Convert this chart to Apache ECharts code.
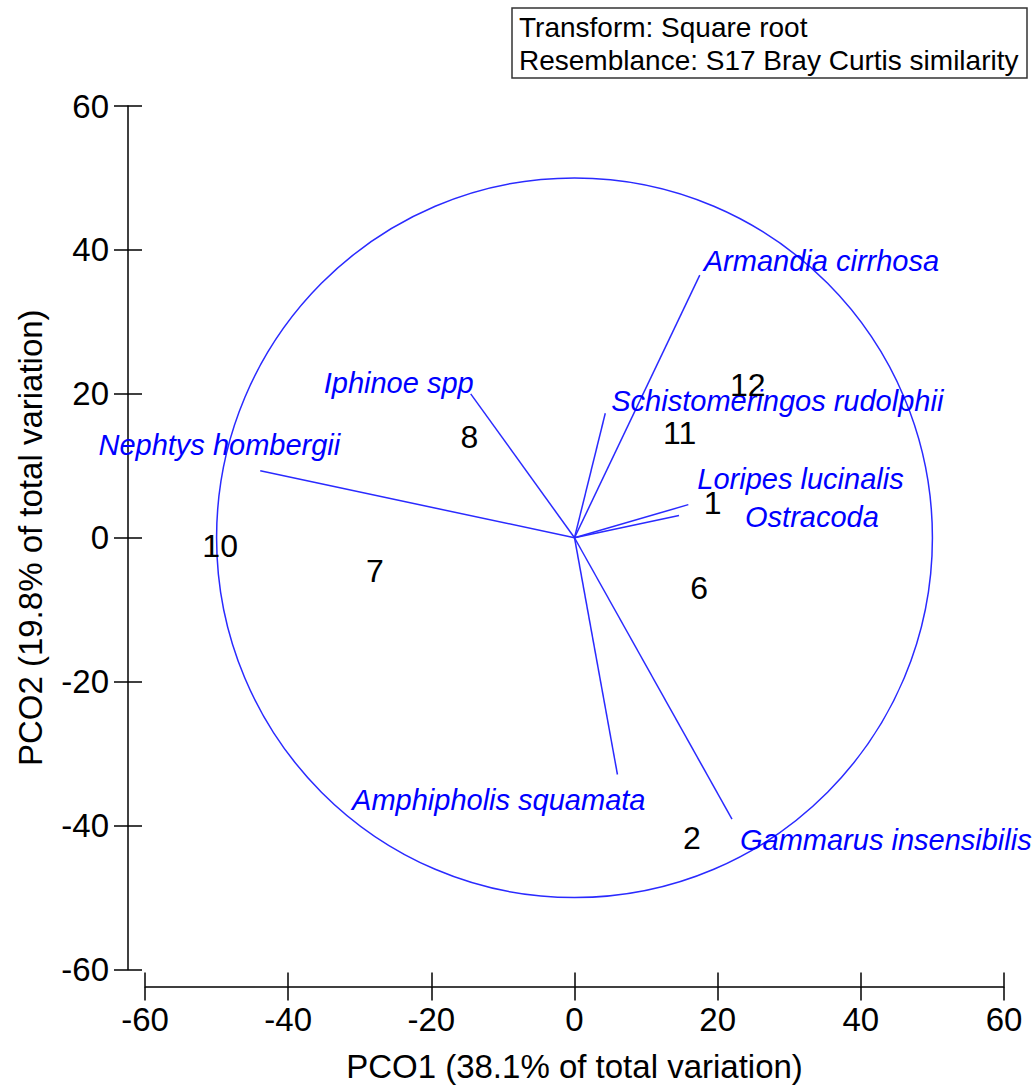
<!DOCTYPE html>
<html>
<head>
<meta charset="utf-8">
<style>
  html, body { margin: 0; padding: 0; background: #ffffff; }
  #chart { width: 1033px; height: 1086px; }
</style>
<script src="https://cdn.jsdelivr.net/npm/echarts@6/dist/echarts.min.js"></script>
</head>
<body>
<div id="chart"></div>
<script>
// ---- data ----
const sampleNames = ['1', '2', '6', '7', '8', '10', '11', '12'];
const sampleX = [19.3, 16.4, 17.4, -27.9, -14.7, -49.5, 14.7, 24.2];
const sampleY = [4.8, -41.7, -7.0, -4.6, 14.0, -1.1, 14.6, 21.2];

const speciesNames = ['Armandia cirrhosa', 'Schistomeringos rudolphii', 'Loripes lucinalis', 'Ostracoda',
                      'Iphinoe spp', 'Nephtys hombergii', 'Amphipholis squamata', 'Gammarus insensibilis'];
const speciesX = [17.5, 4.3, 15.9, 14.6, -14.5, -43.9, 6.0, 22.0];
const speciesY = [36.5, 17.3, 4.6, 3.1, 20.0, 9.3, -32.9, -39.1];

const circleRadius = 50;
const axisMin = -60, axisMax = 60, axisStep = 20;
const xTitle = 'PCO1 (38.1% of total variation)';
const yTitle = 'PCO2 (19.8% of total variation)';
const infoLines = ['Transform: Square root', 'Resemblance: S17 Bray Curtis similarity'];

// ---- styling (label placement offsets in pixels) ----
const FONT = '"Liberation Sans", Arial, sans-serif';
const BLUE_TEXT = '#0000ff';
const BLUE_LINE = '#2a2aff';
const speciesLabelStyle = [
  { dx: 4, dy: -14, align: 'left' },
  { dx: 6, dy: -12, align: 'left' },
  { dx: 9, dy: -26, align: 'left' },
  { dx: 66, dy: 2, align: 'left' },
  { dx: 3, dy: -11, align: 'right' },
  { dx: 80, dy: -26, align: 'right' },
  { dx: 28, dy: 26, align: 'right' },
  { dx: 8, dy: 21, align: 'left' }
];

const samples = sampleNames.map((n, i) => [sampleX[i], sampleY[i]]);
const species = speciesNames.map((n, i) => [speciesX[i], speciesY[i]]);

const axisCommon = {
  type: 'value', min: axisMin, max: axisMax, interval: axisStep,
  splitLine: { show: false }
};

function mainAxis(position, extra) {
  return Object.assign({}, axisCommon, {
    position: position,
    offset: 17,
    axisLine: { show: true, onZero: false, lineStyle: { color: '#000', width: 1.5 } },
    axisTick: { show: true, inside: false, length: 14, lineStyle: { color: '#000', width: 1.5 } },
    nameLocation: 'middle',
    nameTextStyle: { color: '#000', fontSize: 33, fontFamily: FONT }
  }, extra);
}
function innerTickAxis(position) {
  return Object.assign({}, axisCommon, {
    position: position,
    offset: 17,
    axisLine: { show: false, onZero: false },
    axisTick: { show: true, inside: true, length: 14, lineStyle: { color: '#000', width: 1.5 } },
    axisLabel: { show: false }
  });
}

const chart = echarts.init(document.getElementById('chart'), null, { renderer: 'svg' });
chart.setOption({
  animation: false,
  backgroundColor: '#ffffff',
  textStyle: { fontFamily: FONT },
  grid: { left: 145, right: 29, top: 106, bottom: 116.5, outerBoundsMode: 'none', containLabel: false },
  xAxis: [
    mainAxis('bottom', { name: xTitle, nameGap: 63,
      axisLabel: { show: true, color: '#000', fontSize: 33, fontFamily: FONT, margin: 16, showMinLabel: true, showMaxLabel: true } }),
    innerTickAxis('bottom')
  ],
  yAxis: [
    mainAxis('left', { name: yTitle, nameGap: 81,
      axisLabel: { show: true, color: '#000', fontSize: 33, fontFamily: FONT, margin: 19, showMinLabel: true, showMaxLabel: true } }),
    innerTickAxis('left')
  ],
  graphic: [
    { type: 'rect', shape: { x: 512, y: 8, width: 515, height: 70 },
      style: { fill: '#ffffff', stroke: '#333333', lineWidth: 1.5 }, z: 10 },
    { type: 'text', x: 519, y: 27, z: 11,
      style: { text: infoLines[0], fill: '#000', font: '28px ' + FONT, verticalAlign: 'middle', align: 'left' } },
    { type: 'text', x: 519, y: 60.5, z: 11,
      style: { text: infoLines[1], fill: '#000', font: '28px ' + FONT, verticalAlign: 'middle', align: 'left' } }
  ],
  series: [
    {
      type: 'custom',
      name: 'circle',
      xAxisIndex: 0, yAxisIndex: 0,
      data: [[0, 0]],
      silent: true,
      renderItem: function (params, api) {
        const c = api.coord([api.value(0), api.value(1)]);
        const s = api.size([circleRadius, circleRadius]);
        return {
          type: 'ellipse',
          shape: { cx: c[0], cy: c[1], rx: s[0], ry: s[1] },
          style: { fill: 'none', stroke: BLUE_LINE, lineWidth: 1.5 }
        };
      }
    },
    {
      type: 'custom',
      name: 'vectors',
      xAxisIndex: 0, yAxisIndex: 0,
      data: species,
      silent: true,
      renderItem: function (params, api) {
        const o = api.coord([0, 0]);
        const e = api.coord([api.value(0), api.value(1)]);
        const st = speciesLabelStyle[params.dataIndex];
        return {
          type: 'group',
          children: [
            { type: 'line', shape: { x1: o[0], y1: o[1], x2: e[0], y2: e[1] },
              style: { stroke: BLUE_LINE, lineWidth: 1.5 } },
            { type: 'text', x: e[0] + st.dx, y: e[1] + st.dy,
              style: { text: speciesNames[params.dataIndex], fill: BLUE_TEXT,
                       font: 'italic 29px ' + FONT, align: st.align, verticalAlign: 'middle' } }
          ]
        };
      }
    },
    {
      type: 'custom',
      name: 'samples',
      xAxisIndex: 0, yAxisIndex: 0,
      data: samples,
      silent: true,
      renderItem: function (params, api) {
        const p = api.coord([api.value(0), api.value(1)]);
        return {
          type: 'text', x: p[0], y: p[1],
          style: { text: sampleNames[params.dataIndex], fill: '#000000', opacity: 1,
                   font: '32px ' + FONT, align: 'center', verticalAlign: 'middle' }
        };
      }
    }
  ]
});
</script>
</body>
</html>
